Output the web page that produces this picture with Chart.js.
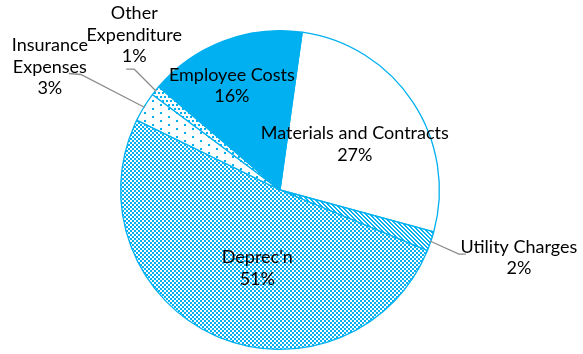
<!DOCTYPE html>
<html>
<head>
<meta charset="utf-8">
<script src="https://cdn.jsdelivr.net/npm/chart.js@4/dist/chart.umd.min.js"></script>
<style>
  html, body { margin: 0; padding: 0; background: #fff; }
  #wrap { width: 583px; height: 354px; position: relative; }
</style>
</head>
<body>
<div id="wrap"><canvas id="cost-chart"></canvas></div>
<script>
const categories = ['Materials and Contracts', 'Utility Charges', "Deprec'n", 'Insurance Expenses', 'Other Expenditure', 'Employee Costs'];
const shares = [27, 2, 51, 3, 1, 16];

const BLUE = '#00B0F0';

// small repeating tiles for the hatched slices
function makePattern(kind) {
  const tile = document.createElement('canvas');
  const w = kind === 'check' ? 4 : kind === 'sparse' ? 16 : 8;
  const h = kind === 'check' ? 4 : 8;
  tile.width = w; tile.height = h;
  const t = tile.getContext('2d');
  t.fillStyle = '#fff';
  t.fillRect(0, 0, w, h);
  t.fillStyle = BLUE;
  if (kind === 'check') {
    t.fillRect(0, 0, 2, 2);
    t.fillRect(2, 2, 2, 2);
  } else if (kind === 'diag') {
    // downward diagonal stripes, 2px thick, every 4px
    for (let x = 0; x < w; x++) {
      for (let y = 0; y < h; y++) {
        if (((y - x) % 4 + 4) % 4 < 2) t.fillRect(x, y, 1, 1);
      }
    }
  } else if (kind === 'sparse') {
    t.fillRect(0, 0, 2, 2);
    t.fillRect(8, 4, 2, 2);
  } else if (kind === 'dots') {
    t.fillRect(0, 0, 2, 2);
    t.fillRect(4, 0, 2, 2);
    t.fillRect(2, 4, 2, 2);
    t.fillRect(6, 4, 2, 2);
  }
  return document.createElement('canvas').getContext('2d').createPattern(tile, 'repeat');
}

const fills = ['#ffffff', makePattern('diag'), makePattern('check'), makePattern('sparse'), makePattern('dots'), BLUE];

// label placement: inside labels sit at a fraction of the radius along the slice middle,
// outside labels hang off a leader line (offsets from the arc edge)
const insideLabels = {
  0: { r: 0.55, shift: 2 },
  2: { r: 0.51, shift: -8 },
  5: { r: 0.72, shift: -4 }
};
const outsideLabels = {
  1: { elbow: [29, 13], end: [36, 13], text: [89, 6], lines: ['Utility Charges', '2%'] },
  3: { elbow: [-64, -33], end: [-76, -34], text: [-95, -62], lines: ['Insurance', 'Expenses', '3%'] },
  4: { elbow: [-22, -22], end: [-30, -22], text: [-22, -78], lines: ['Other', 'Expenditure', '1%'] }
};

const labelPlugin = {
  id: 'sliceLabels',
  afterDatasetsDraw(chart) {
    const ctx = chart.ctx;
    const meta = chart.getDatasetMeta(0);
    const lineH = 21.5;
    ctx.save();
    ctx.font = '18px Lato';
    ctx.fillStyle = '#000';
    ctx.textAlign = 'center';
    ctx.textBaseline = 'middle';
    meta.data.forEach((arc, i) => {
      const { x, y, startAngle, endAngle, outerRadius } = arc.getProps(['x', 'y', 'startAngle', 'endAngle', 'outerRadius'], true);
      const mid = (startAngle + endAngle) / 2;
      if (insideLabels[i]) {
        const cfg = insideLabels[i];
        const a = mid + cfg.shift * Math.PI / 180;
        const cx = x + Math.cos(a) * outerRadius * cfg.r;
        const cy = y + Math.sin(a) * outerRadius * cfg.r;
        const lines = [categories[i], shares[i] + '%'];
        lines.forEach((s, k) => ctx.fillText(s, cx, cy + (k - (lines.length - 1) / 2) * lineH));
      } else if (outsideLabels[i]) {
        const cfg = outsideLabels[i];
        const ax = x + Math.cos(mid) * (outerRadius - 1);
        const ay = y + Math.sin(mid) * (outerRadius - 1);
        ctx.strokeStyle = '#8c8c8c';
        ctx.lineWidth = 1.3;
        ctx.beginPath();
        ctx.moveTo(ax, ay);
        ctx.lineTo(ax + cfg.elbow[0], ay + cfg.elbow[1]);
        ctx.lineTo(ax + cfg.end[0], ay + cfg.end[1]);
        ctx.stroke();
        const tx = ax + cfg.text[0];
        const ty = ay + cfg.text[1];
        cfg.lines.forEach((s, k) => ctx.fillText(s, tx, ty + k * lineH));
      }
    });
    ctx.restore();
  }
};

new Chart(document.getElementById('cost-chart'), {
  type: 'pie',
  data: {
    labels: categories,
    datasets: [{
      data: shares,
      backgroundColor: fills,
      borderColor: BLUE,
      borderWidth: 1.3
    }]
  },
  options: {
    responsive: true,
    maintainAspectRatio: false,
    animation: false,
    rotation: 8,
    layout: { padding: { top: 30, bottom: 4, left: 0, right: 23 } },
    plugins: {
      legend: { display: false },
      tooltip: { enabled: false }
    }
  },
  plugins: [labelPlugin]
});
</script>
</body>
</html>
